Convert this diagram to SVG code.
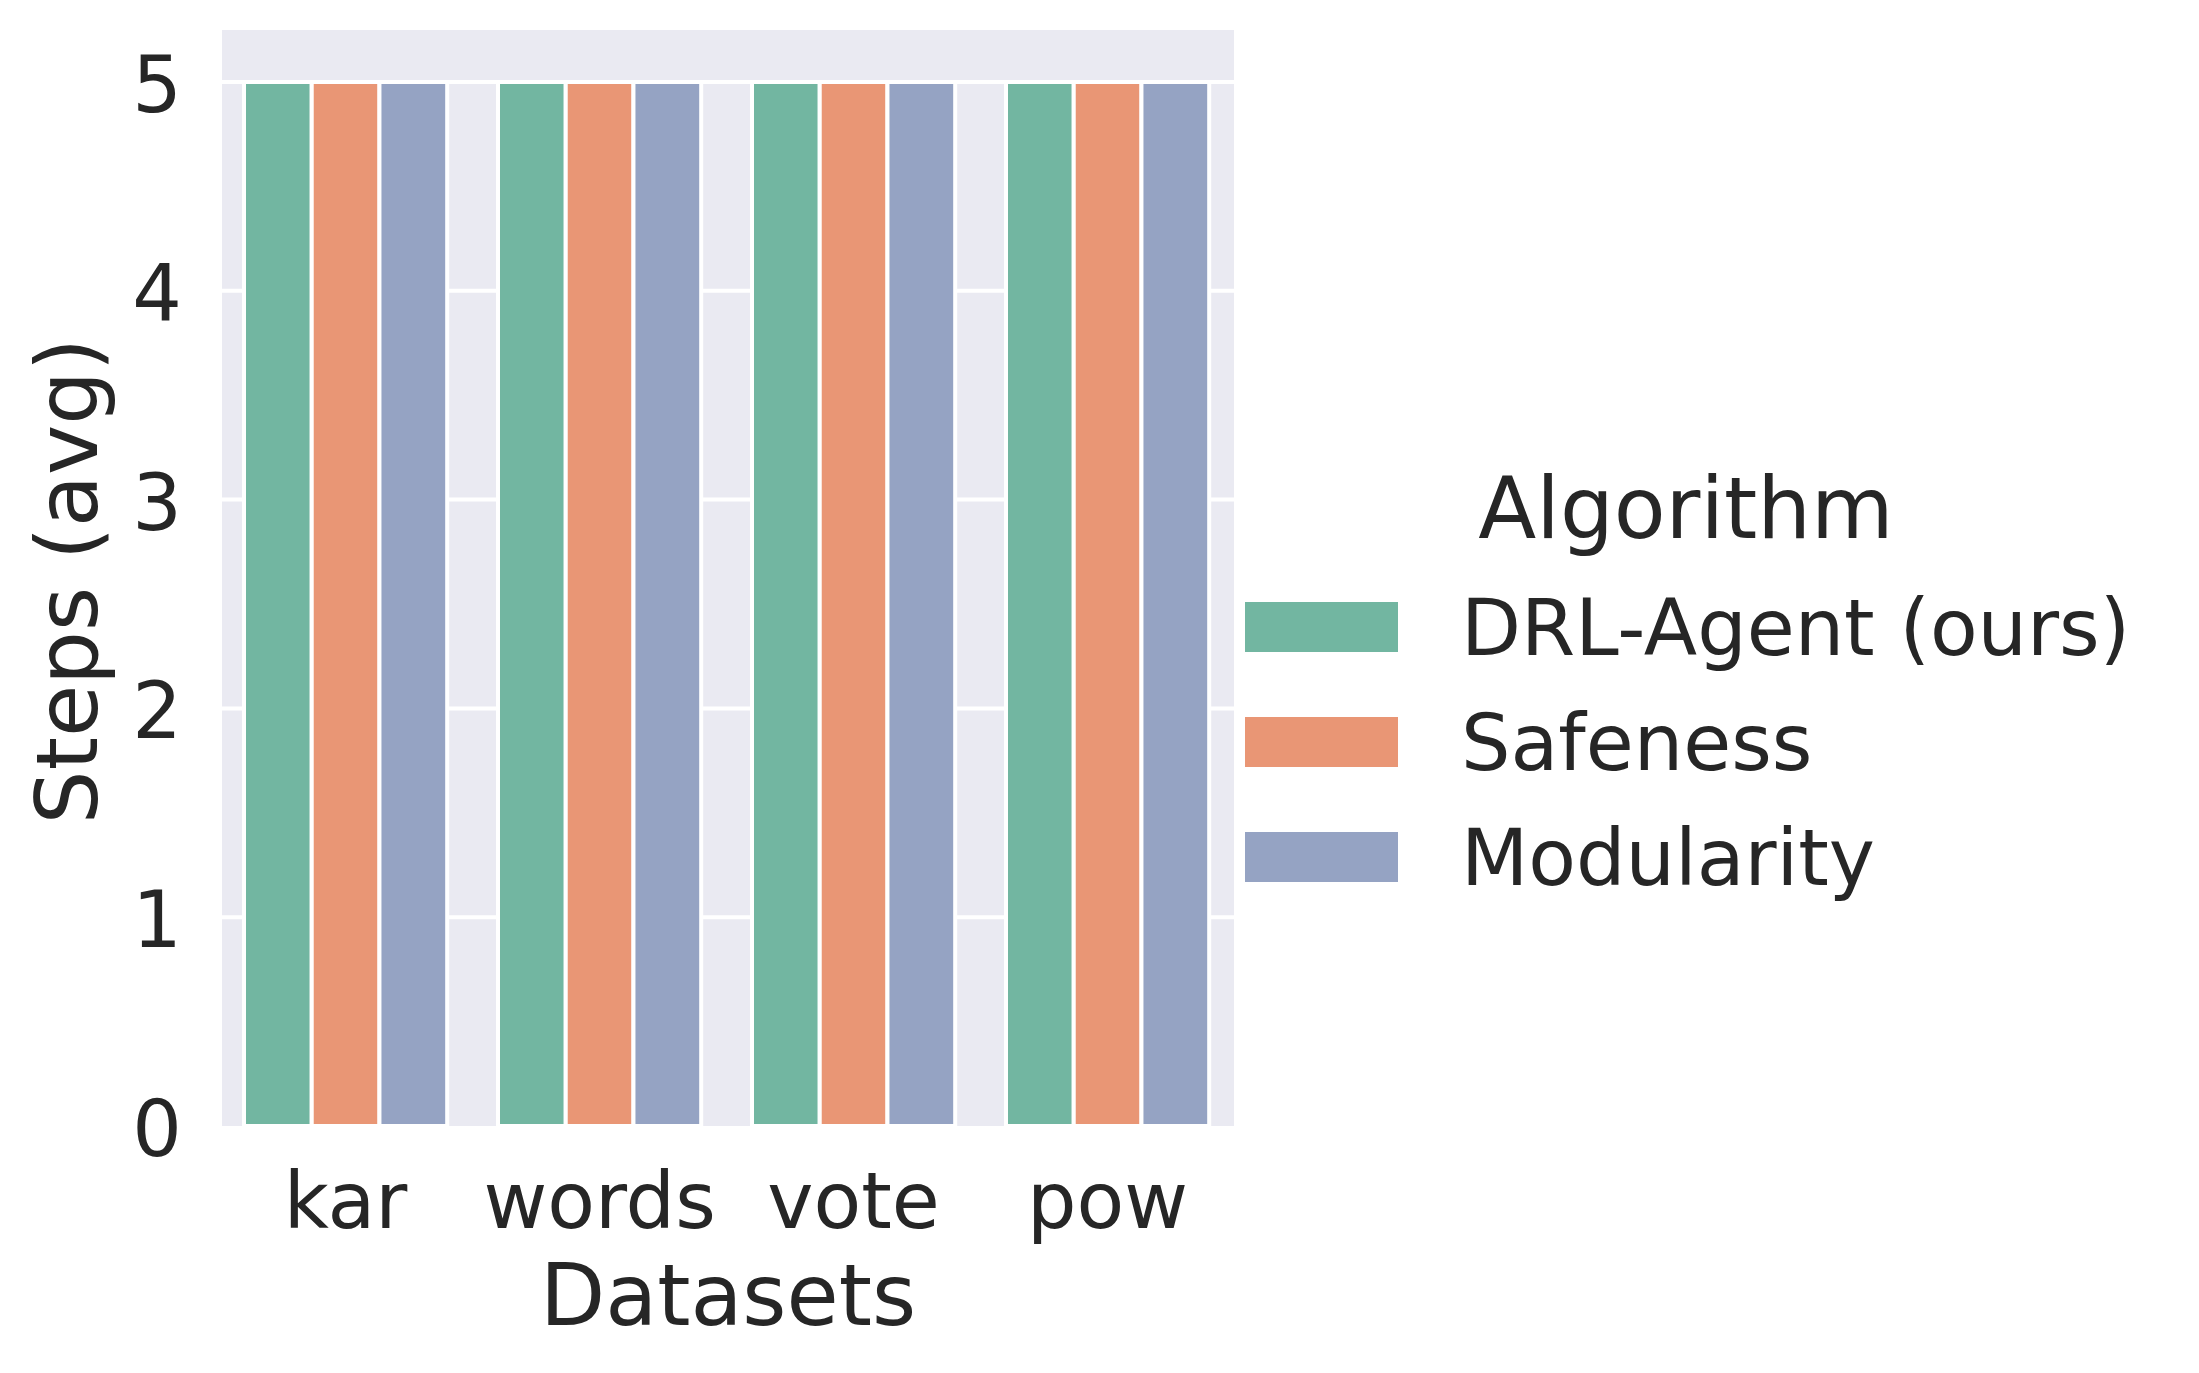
<svg xmlns="http://www.w3.org/2000/svg" width="2199" height="1373" viewBox="0 0 2199 1373">
<style>
text { font-family: "DejaVu Sans", "Noto Sans", sans-serif; fill: #262626; }
.tick { font-size: 78px; }
.lab { font-size: 84.8px; }
.grid { stroke: #ffffff; stroke-width: 4; }
.bar { stroke: #ffffff; stroke-width: 4; }
.g { fill: #72b6a1; }
.o { fill: #e99675; }
.b { fill: #95a3c3; }
</style>
<rect x="0" y="0" width="2199" height="1373" fill="#ffffff"/>
<g id="axes-bg">
<rect x="222" y="30" width="1012" height="1096" fill="#eaeaf2"/>
</g>
<g id="gridlines">
<line class="grid" x1="222" y1="82" x2="1234" y2="82"/>
<line class="grid" x1="222" y1="290.8" x2="1234" y2="290.8"/>
<line class="grid" x1="222" y1="499.6" x2="1234" y2="499.6"/>
<line class="grid" x1="222" y1="708.4" x2="1234" y2="708.4"/>
<line class="grid" x1="222" y1="917.2" x2="1234" y2="917.2"/>
</g>
<g id="bars-kar">
<rect class="bar g" x="244" y="82" width="67.73" height="1044"/>
<rect class="bar o" x="311.73" y="82" width="67.73" height="1044"/>
<rect class="bar b" x="379.46" y="82" width="67.73" height="1044"/>
</g>
<g id="bars-words">
<rect class="bar g" x="498" y="82" width="67.73" height="1044"/>
<rect class="bar o" x="565.73" y="82" width="67.73" height="1044"/>
<rect class="bar b" x="633.46" y="82" width="67.73" height="1044"/>
</g>
<g id="bars-vote">
<rect class="bar g" x="752" y="82" width="67.73" height="1044"/>
<rect class="bar o" x="819.73" y="82" width="67.73" height="1044"/>
<rect class="bar b" x="887.46" y="82" width="67.73" height="1044"/>
</g>
<g id="bars-pow">
<rect class="bar g" x="1006" y="82" width="67.73" height="1044"/>
<rect class="bar o" x="1073.73" y="82" width="67.73" height="1044"/>
<rect class="bar b" x="1141.46" y="82" width="67.73" height="1044"/>
</g>
<g id="y-ticks" class="tick" text-anchor="end">
<text x="182" y="112">5</text>
<text x="182" y="320.8">4</text>
<text x="182" y="529.6">3</text>
<text x="182" y="738.4">2</text>
<text x="182" y="947.2">1</text>
<text x="182" y="1156">0</text>
</g>
<g id="x-ticks" class="tick" text-anchor="middle">
<text x="345.6" y="1228">kar</text>
<text x="599.6" y="1228">words</text>
<text x="853.6" y="1228">vote</text>
<text x="1107.6" y="1228">pow</text>
</g>
<g id="axis-labels" class="lab" text-anchor="middle">
<text x="728" y="1325">Datasets</text>
<text transform="translate(97,581) rotate(-90)" x="0" y="0">Steps (avg)</text>
</g>
<g id="legend">
<text class="lab" x="1686" y="538" text-anchor="middle">Algorithm</text>
<rect class="g" x="1245" y="602" width="153" height="50"/>
<rect class="o" x="1245" y="717" width="153" height="50"/>
<rect class="b" x="1245" y="832" width="153" height="50"/>
<text class="tick" x="1461" y="655">DRL-Agent (ours)</text>
<text class="tick" x="1461" y="770">Safeness</text>
<text class="tick" x="1461" y="885">Modularity</text>
</g>
</svg>
